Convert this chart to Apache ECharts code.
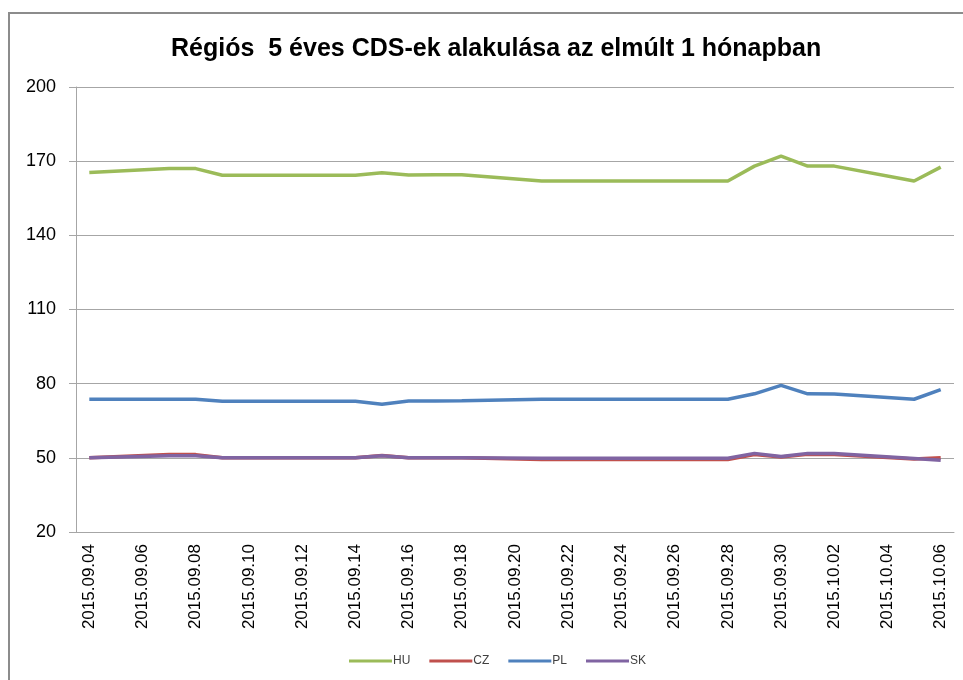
<!DOCTYPE html>
<html>
<head>
<meta charset="utf-8">
<script src="https://cdn.jsdelivr.net/npm/echarts@6/dist/echarts.min.js"></script>
<style>
  html, body { margin: 0; padding: 0; background: #fff; }
  #chart { width: 963px; height: 680px; }
</style>
</head>
<body>
<div id="chart"></div>
<script>
// napok (hétvégén nincs adat -> null)
var days = ['2015.09.04','2015.09.05','2015.09.06','2015.09.07','2015.09.08','2015.09.09','2015.09.10',
    '2015.09.11','2015.09.12','2015.09.13','2015.09.14','2015.09.15','2015.09.16','2015.09.17',
    '2015.09.18','2015.09.19','2015.09.20','2015.09.21','2015.09.22','2015.09.23','2015.09.24',
    '2015.09.25','2015.09.26','2015.09.27','2015.09.28','2015.09.29','2015.09.30','2015.10.01',
    '2015.10.02','2015.10.03','2015.10.04','2015.10.05','2015.10.06'];

var hu = [165.4, null, null, 167.0, 167.0, 164.3, 164.3, 164.3, null, null, 164.3, 165.3, 164.4, 164.5,
    164.5, null, null, 162.0, 162.0, 162.0, 162.0, 162.0, null, null, 162.0, 168.0, 172.0, 168.0,
    168.0, null, null, 162.0, 167.6];
var cz = [50.0, null, null, 51.3, 51.3, 50.0, 50.0, 50.0, null, null, 50.0, 50.9, 50.0, 50.0,
    50.0, null, null, 49.3, 49.3, 49.3, 49.3, 49.3, null, null, 49.3, 51.3, 50.3, 51.4,
    51.3, null, null, 49.5, 50.0];
var pl = [73.7, null, null, 73.7, 73.7, 72.9, 72.9, 72.9, null, null, 72.9, 71.7, 73.0, 73.0,
    73.1, null, null, 73.7, 73.7, 73.7, 73.7, 73.7, null, null, 73.7, 75.9, 79.3, 75.9,
    75.8, null, null, 73.7, 77.6];
var sk = [50.0, null, null, 50.8, 50.8, 50.0, 50.0, 50.0, null, null, 50.0, 50.8, 50.0, 50.0,
    50.0, null, null, 49.8, 49.8, 49.8, 49.8, 49.8, null, null, 49.8, 51.8, 50.5, 51.8,
    51.8, null, null, 49.7, 49.0];

var seriesNames = ['HU', 'CZ', 'PL', 'SK'];
var seriesColors = ['#9bbb59', '#c0504d', '#4f81bd', '#8064a2'];
var seriesData = [hu, cz, pl, sk];

var font = '"Liberation Sans", Arial, sans-serif';

var option = {
    animation: false,
    backgroundColor: '#fff',
    title: {
        text: 'Régiós  5 éves CDS-ek alakulása az elmúlt 1 hónapban',
        left: 166,
        top: 32,
        textStyle: { fontFamily: font, fontSize: 25, fontWeight: 'bold', color: '#000' }
    },
    graphic: [{
        type: 'polyline',
        shape: { points: [[9, 690], [9, 13], [970, 13]] },
        style: { stroke: '#8c8c8c', lineWidth: 2, fill: null }
    }],
    legend: {
        bottom: 8,
        left: 344,
        itemWidth: 43,
        itemHeight: 3,
        itemGap: 19,
        icon: 'rect',
        textStyle: { fontFamily: font, fontSize: 12, color: '#404040', padding: [0, 0, 0, -4] },
        data: seriesNames
    },
    grid: { left: 76, right: 9, top: 87, bottom: 148, containLabel: false },
    xAxis: {
        type: 'category',
        data: days,
        boundaryGap: true,
        axisLine: { lineStyle: { color: '#a6a6a6', width: 1 } },
        axisTick: { interval: 1, length: 6, lineStyle: { color: '#a6a6a6' } },
        axisLabel: {
            interval: 1, rotate: 90, margin: 12,
            fontFamily: font, fontSize: 17, color: '#000'
        }
    },
    yAxis: {
        type: 'value',
        min: 20, max: 200, interval: 30,
        axisLine: { show: true, lineStyle: { color: '#a6a6a6' } },
        axisTick: { show: true, inside: false, length: 7, lineStyle: { color: '#a6a6a6' } },
        axisLabel: { fontFamily: font, fontSize: 18, color: '#000', margin: 20 },
        splitLine: { lineStyle: { color: '#a6a6a6', width: 1 } }
    },
    series: seriesNames.map(function (name, i) {
        return {
            name: name,
            type: 'line',
            data: seriesData[i],
            connectNulls: true,
            showSymbol: false,
            symbol: 'none',
            color: seriesColors[i],
            lineStyle: { width: 3.5, color: seriesColors[i] }
        };
    })
};

var chart = echarts.init(document.getElementById('chart'));
chart.setOption(option);
</script>
</body>
</html>
